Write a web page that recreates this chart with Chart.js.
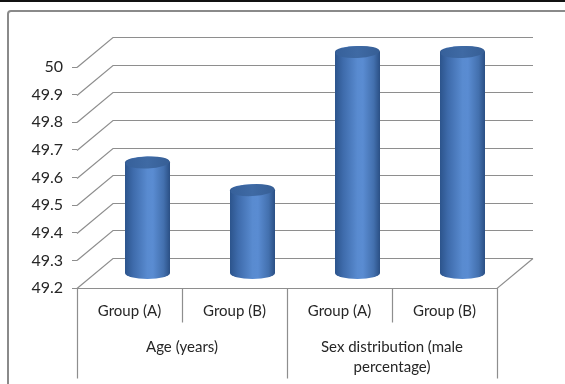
<!DOCTYPE html>
<html>
<head>
<meta charset="utf-8">
<script src="https://cdn.jsdelivr.net/npm/chart.js@4/dist/chart.umd.min.js"></script>
<style>
  html, body { margin: 0; padding: 0; background: #fff; }
  #wrap { width: 565px; height: 384px; position: relative; }
</style>
</head>
<body>
<div id="wrap"><canvas id="c" width="565" height="384"></canvas></div>
<script>
// Sub-categories (one per cylinder) and the two outer groups
const categories = ['Group (A)', 'Group (B)', 'Group (A)', 'Group (B)'];
const groupLabels = [['Age (years)'], ['Sex distribution (male', 'percentage)']];
// Cylinder heights
const values = [49.6, 49.5, 50, 50];
// Value axis ticks
const yTicks = [49.2, 49.3, 49.4, 49.5, 49.6, 49.7, 49.8, 49.9, 50];

const FONT = 'Lato, "Liberation Sans", sans-serif';
const TEXT = '#262626';
const GRID = '#8e8e8e';
const DEPTH = { dx: 36, dy: -30 };   // perspective offset of the back wall

function cylinder(ctx, cx, topY, botY, rx, ry) {
  const g = ctx.createLinearGradient(cx - rx, 0, cx + rx, 0);
  g.addColorStop(0, '#2c548c');
  g.addColorStop(0.18, '#3e6bab');
  g.addColorStop(0.5, '#598bd0');
  g.addColorStop(0.62, '#5a8cd2');
  g.addColorStop(0.86, '#4370ae');
  g.addColorStop(1, '#2a4f84');
  ctx.save();
  ctx.beginPath();
  ctx.moveTo(cx - rx, topY);
  ctx.lineTo(cx - rx, botY);
  ctx.ellipse(cx, botY, rx, ry, 0, Math.PI, 0, true);
  ctx.lineTo(cx + rx, topY);
  ctx.ellipse(cx, topY, rx, ry, 0, 0, Math.PI, true);
  ctx.closePath();
  ctx.fillStyle = g;
  ctx.fill();
  // top cap
  const t = ctx.createLinearGradient(cx - rx, 0, cx + rx, 0);
  t.addColorStop(0, '#36609a');
  t.addColorStop(0.5, '#3f6aa4');
  t.addColorStop(1, '#365e95');
  ctx.beginPath();
  ctx.ellipse(cx, topY, rx - 0.5, ry, -0.05, 0, Math.PI * 2);
  ctx.fillStyle = t;
  ctx.fill();
  ctx.restore();
}

const frame3d = {
  id: 'frame3d',
  beforeDraw(chart) {
    const ctx = chart.ctx;
    ctx.save();
    ctx.fillStyle = '#fff';
    ctx.fillRect(0, 0, chart.width, chart.height);
    // outer frame
    ctx.fillStyle = '#111';
    ctx.fillRect(0, 0, chart.width, 2);
    ctx.strokeStyle = '#8a8a8a';
    ctx.lineWidth = 2;
    ctx.beginPath();
    ctx.roundRect(8, 11, chart.width + 40, chart.height + 40, 3);
    ctx.stroke();
    ctx.restore();
  },
  beforeDatasetsDraw(chart) {
    const ctx = chart.ctx;
    const a = chart.chartArea;
    const ys = chart.scales.y;
    const xs = chart.scales.x;
    const { dx, dy } = DEPTH;
    ctx.save();
    ctx.strokeStyle = GRID;
    ctx.lineWidth = 1.2;
    ctx.beginPath();
    yTicks.forEach(v => {
      const y = Math.round(ys.getPixelForValue(v)) + 0.5;
      ctx.moveTo(a.left, y);
      ctx.lineTo(a.left + dx, y + dy);
      ctx.lineTo(a.right + dx, y + dy);
    });
    // floor
    const b = Math.round(a.bottom) + 0.5;
    ctx.moveTo(a.left, b);
    ctx.lineTo(a.right, b);
    ctx.lineTo(a.right + dx, b + dy);
    // category dividers
    const half = (xs.getPixelForValue(1) - xs.getPixelForValue(0)) / 2;
    const x0 = xs.getPixelForValue(0) - half;
    for (let i = 0; i <= categories.length; i++) {
      const x = Math.round(x0 + i * 2 * half) + 0.5;
      ctx.moveTo(x, b);
      ctx.lineTo(x, i % 2 === 0 ? b + 90 : b + 34);
    }
    ctx.stroke();
    ctx.restore();
  },
  afterDatasetsDraw(chart) {
    const ctx = chart.ctx;
    const { dx, dy } = DEPTH;
    const base = chart.scales.y.getPixelForValue(yTicks[0]);
    chart.getDatasetMeta(0).data.forEach(bar => {
      const rx = bar.width / 2;
      cylinder(ctx, bar.x + dx / 2, bar.y + dy / 2, base + dy / 2, rx, 6);
    });
  }
};

new Chart(document.getElementById('c'), {
  type: 'bar',
  data: {
    labels: categories,
    datasets: [{
      data: values,
      backgroundColor: 'rgba(0,0,0,0)',
      borderWidth: 0,
      barPercentage: 45 / 105,
      categoryPercentage: 1,
      xAxisID: 'x',
      yAxisID: 'y'
    }]
  },
  options: {
    responsive: false,
    animation: false,
    devicePixelRatio: 1,
    layout: { padding: { left: 0, top: 67, right: 68, bottom: 0 } },
    plugins: { legend: { display: false }, tooltip: { enabled: false } },
    scales: {
      y: {
        min: 49.2, max: 50,
        afterBuildTicks: s => { s.ticks = yTicks.map(v => ({ value: v })); },
        afterFit: s => { s.width = 77; },
        grid: { drawOnChartArea: false, drawTicks: true, tickLength: 5, color: GRID },
        border: { display: false },
        ticks: {
          padding: 9,
          color: TEXT,
          font: { family: FONT, size: 16 },
          callback: v => String(+Number(v).toFixed(1))
        }
      },
      x: {
        type: 'category',
        position: 'bottom',
        offset: true,
        clip: false,
        afterFit: s => { s.height = 34; },
        grid: { display: false },
        border: { display: false },
        ticks: {
          padding: 6, autoSkip: false, maxRotation: 0,
          color: TEXT, font: { family: FONT, size: 15 }
        }
      },
      x2: {
        type: 'category',
        position: 'bottom',
        labels: groupLabels,
        offset: true,
        clip: false,
        afterFit: s => { s.height = 62; },
        grid: { display: false },
        border: { display: false },
        ticks: {
          padding: 7, autoSkip: false, maxRotation: 0,
          color: TEXT, font: { family: FONT, size: 15, lineHeight: 1.35 }
        }
      }
    }
  },
  plugins: [frame3d]
});
</script>
</body>
</html>
